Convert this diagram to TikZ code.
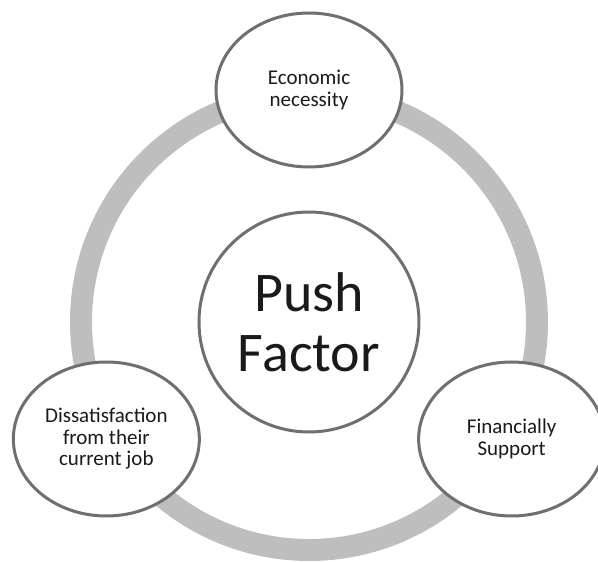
\documentclass[tikz,border=0pt]{standalone}
\usepackage{fontspec}
\setmainfont{Carlito}
\usepackage{xcolor}
\usepackage{tikz}
\usetikzlibrary{shapes.geometric}
\definecolor{RimGray}{HTML}{6F6F6F}
\definecolor{RingGray}{HTML}{BEBEBE}
\definecolor{Ink}{HTML}{1A1A1A}

\begin{document}
\begin{tikzpicture}[
  x=1pt,y=1pt,
  hub/.style={circle,draw=RimGray,line width=3pt,fill=white,align=center,
              minimum size=220pt,inner sep=0pt,text=Ink,
              font=\fontsize{56}{60}\selectfont},
  factor/.style={ellipse,draw=RimGray,line width=3pt,fill=white,align=center,
                 minimum width=186pt,minimum height=154pt,inner sep=0pt,text=Ink,
                 font=\fontsize{21}{21.5}\selectfont},
  ring/.style={draw=RingGray,line width=22pt}
]
\useasboundingbox (-309,-240) rectangle (289,322);
\node[hub] (push) at (0,0) {Push\\Factor};
\draw[ring] (push.center) circle[radius=228];
\node[factor] (economic) at (90:232) {Economic\\necessity};
\node[factor] (dissatisfaction) at (210:234)
 {Dissatisfaction\\from their\\current job};
\node[factor] (support) at (330:234) {Financially\\Support};
\end{tikzpicture}
\end{document}
